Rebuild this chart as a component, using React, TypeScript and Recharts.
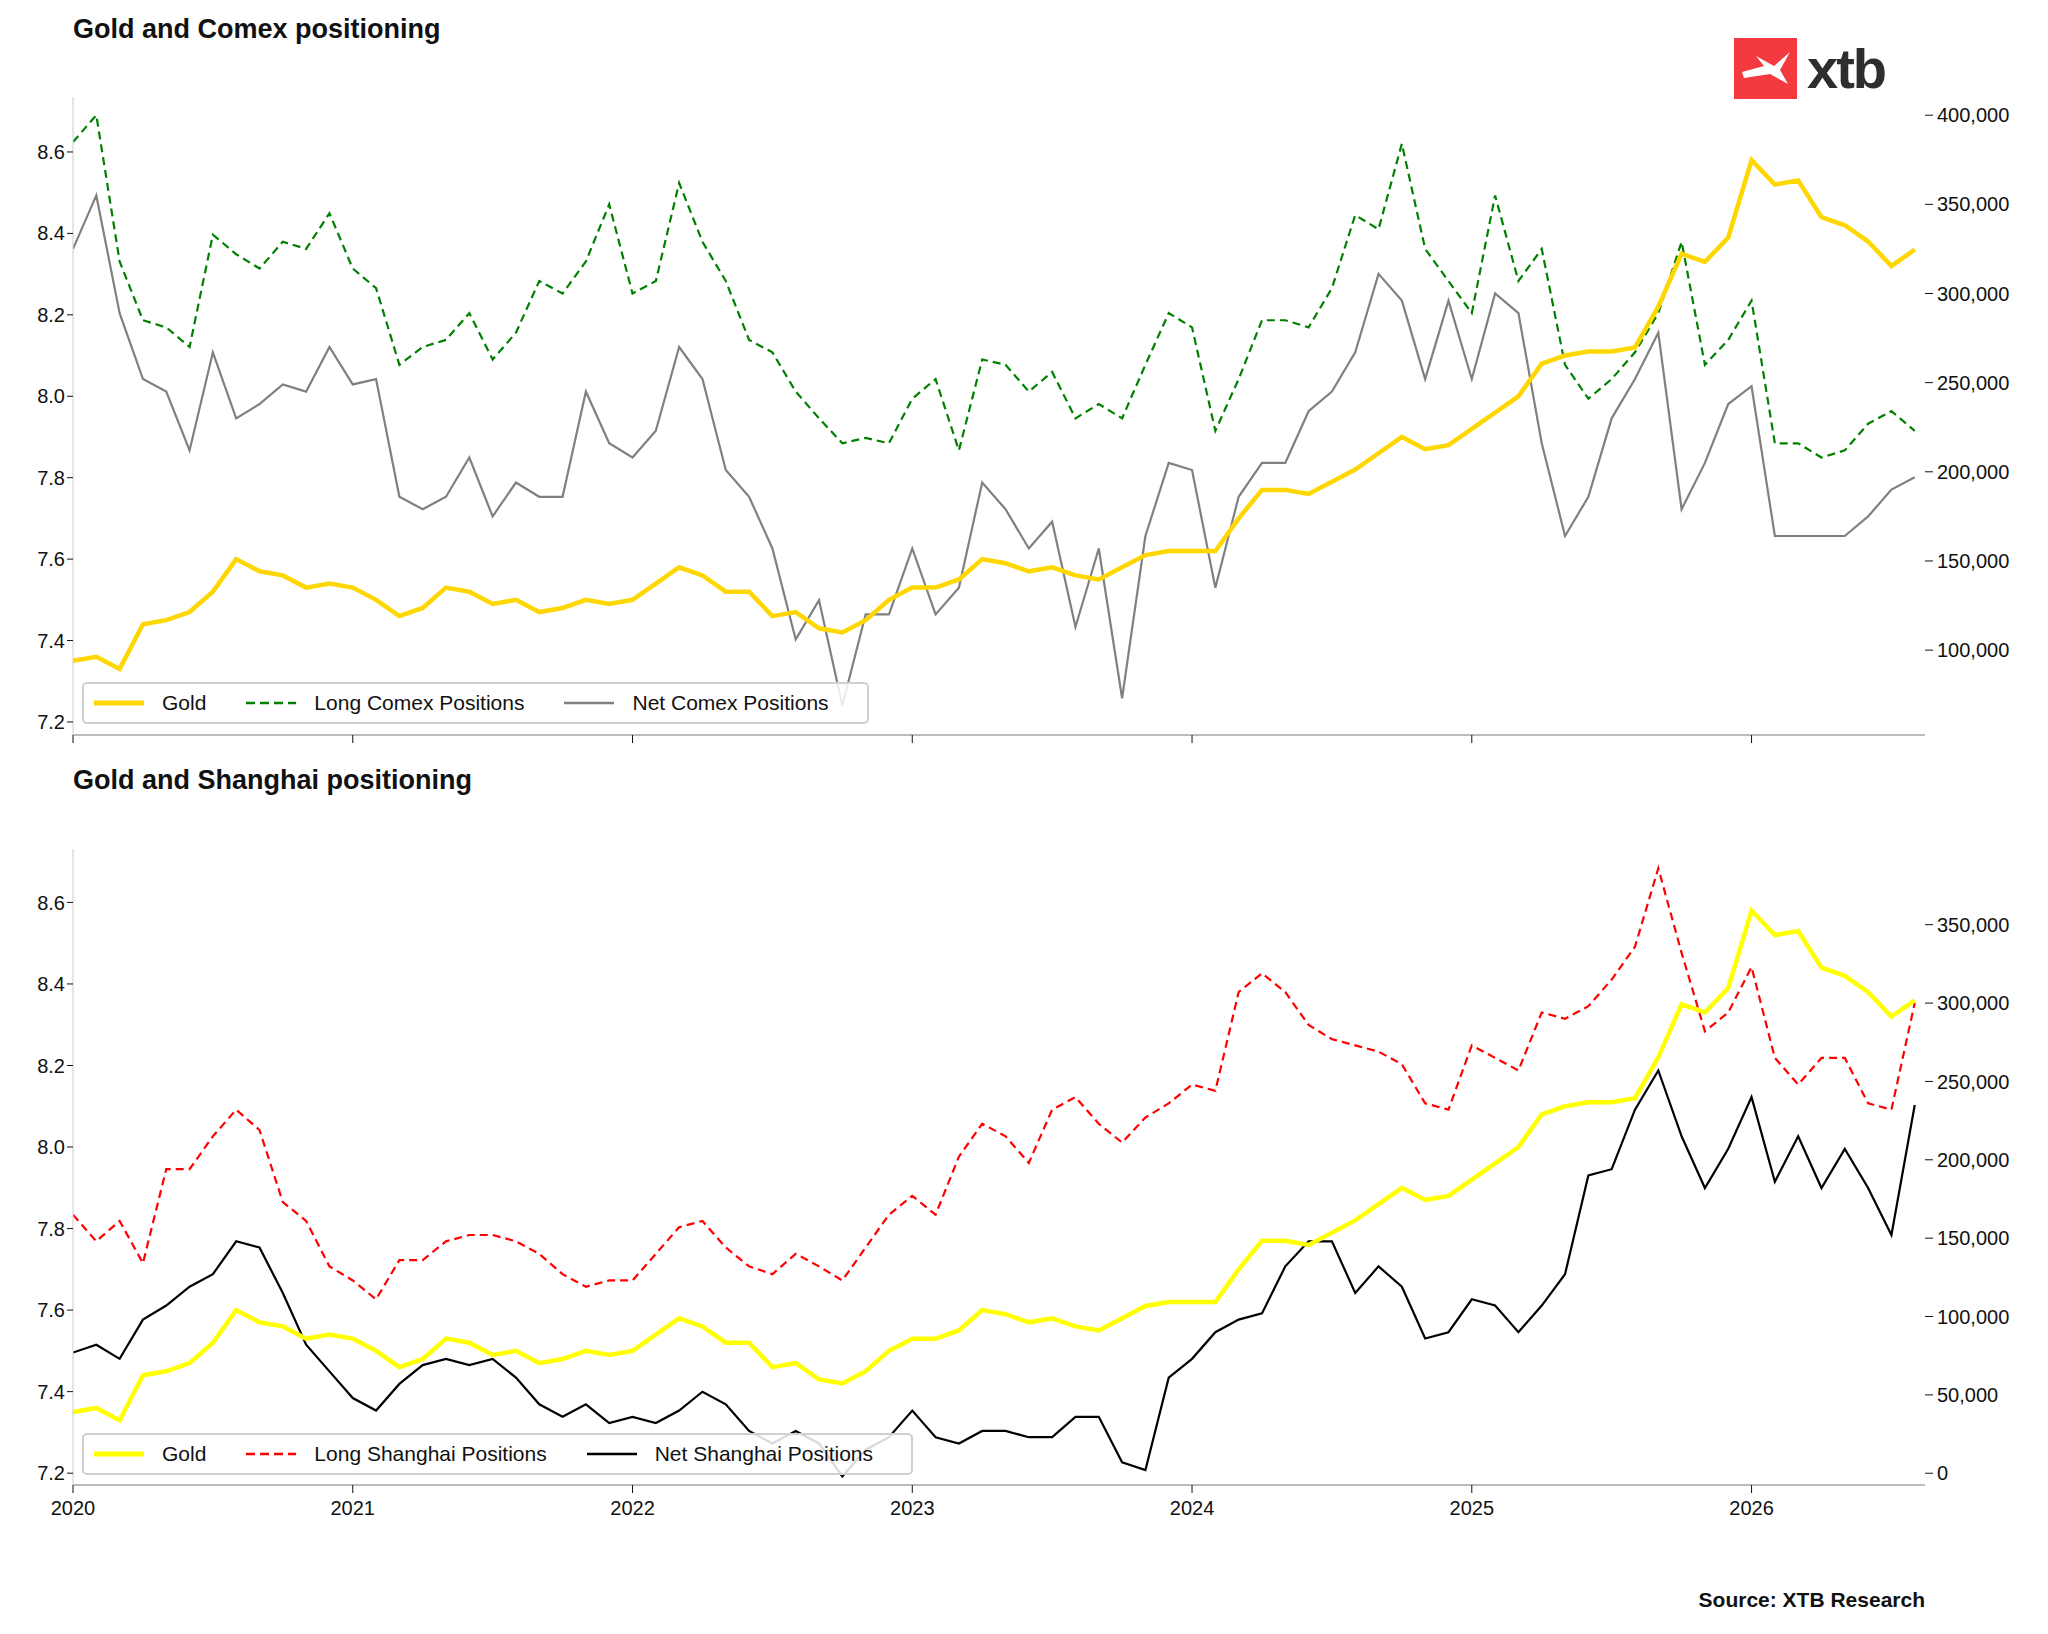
import { LineChart, Line, XAxis, YAxis } from 'recharts'

// monthly readings, Jan 2020 .. Aug 2026
const START_YEAR = 2020
const YEAR_TICKS = [2020, 2021, 2022, 2023, 2024, 2025, 2026]
const GOLD_TICKS = [7.2, 7.4, 7.6, 7.8, 8.0, 8.2, 8.4, 8.6]
const COMEX_TICKS = [100000, 150000, 200000, 250000, 300000, 350000, 400000]
const SHANGHAI_TICKS = [0, 50000, 100000, 150000, 200000, 250000, 300000, 350000]

const gold = [
  7.35, 7.36, 7.33, 7.44, 7.45, 7.47, 7.52, 7.60, 7.57, 7.56, 7.53, 7.54,
  7.53, 7.50, 7.46, 7.48, 7.53, 7.52, 7.49, 7.50, 7.47, 7.48, 7.50, 7.49,
  7.50, 7.54, 7.58, 7.56, 7.52, 7.52, 7.46, 7.47, 7.43, 7.42, 7.45, 7.50,
  7.53, 7.53, 7.55, 7.60, 7.59, 7.57, 7.58, 7.56, 7.55, 7.58, 7.61, 7.62,
  7.62, 7.62, 7.70, 7.77, 7.77, 7.76, 7.79, 7.82, 7.86, 7.90, 7.87, 7.88,
  7.92, 7.96, 8.00, 8.08, 8.10, 8.11, 8.11, 8.12, 8.22, 8.35, 8.33, 8.39,
  8.58, 8.52, 8.53, 8.44, 8.42, 8.38, 8.32, 8.36,
]

const longComex = [
  385000, 400000, 318000, 285000, 281000, 270000, 333000, 322000, 314000, 329000, 325000, 345000,
  314000, 303000, 260000, 270000, 274000, 289000, 263000, 278000, 307000, 300000, 318000, 350000,
  300000, 307000, 362000, 329000, 307000, 274000, 267000, 245000, 230000, 216000, 219000, 216000,
  241000, 252000, 212000, 263000, 260000, 245000, 256000, 230000, 238000, 230000, 260000, 289000,
  281000, 223000, 252000, 285000, 285000, 281000, 303000, 344000, 336000, 384000, 325000, 307000,
  289000, 355000, 307000, 325000, 260000, 241000, 252000, 267000, 289000, 329000, 260000, 274000,
  296000, 216000, 216000, 208000, 212000, 227000, 234000, 223000,
]

const netComex = [
  325000, 355000, 289000, 252000, 245000, 212000, 267000, 230000, 238000, 249000, 245000, 270000,
  249000, 252000, 186000, 179000, 186000, 208000, 175000, 194000, 186000, 186000, 245000, 216000,
  208000, 223000, 270000, 252000, 201000, 186000, 157000, 106000, 128000, 69000, 120000, 120000,
  157000, 120000, 135000, 194000, 179000, 157000, 172000, 113000, 157000, 73000, 164000, 205000,
  201000, 135000, 186000, 205000, 205000, 234000, 245000, 267000, 311000, 296000, 252000, 296000,
  252000, 300000, 289000, 216000, 164000, 186000, 230000, 252000, 278000, 179000, 205000, 238000,
  248000, 164000, 164000, 164000, 164000, 175000, 190000, 197000,
]

const longShanghai = [
  165000, 148000, 161000, 134000, 194000, 194000, 215000, 232000, 219000, 173000, 161000, 132000,
  123000, 111000, 136000, 136000, 148000, 152000, 152000, 148000, 140000, 127000, 119000, 123000,
  123000, 140000, 157000, 161000, 144000, 132000, 127000, 140000, 132000, 123000, 144000, 165000,
  177000, 165000, 202000, 223000, 215000, 198000, 232000, 240000, 223000, 211000, 227000, 236000,
  248000, 244000, 307000, 319000, 307000, 286000, 277000, 273000, 269000, 261000, 236000, 232000,
  273000, 265000, 257000, 294000, 290000, 298000, 315000, 336000, 386000, 332000, 282000, 294000,
  323000, 265000, 248000, 265000, 265000, 236000, 232000, 300000,
]

const netShanghai = [
  77000, 82000, 73000, 98000, 107000, 119000, 127000, 148000, 144000, 115000, 82000, 65000,
  48000, 40000, 57000, 69000, 73000, 69000, 73000, 61000, 44000, 36000, 44000, 32000,
  36000, 32000, 40000, 52000, 44000, 27000, 19000, 27000, 19000, -2000, 15000, 23000,
  40000, 23000, 19000, 27000, 27000, 23000, 23000, 36000, 36000, 7000, 2000, 61000,
  73000, 90000, 98000, 102000, 132000, 148000, 148000, 115000, 132000, 119000, 86000, 90000,
  111000, 107000, 90000, 107000, 127000, 190000, 194000, 232000, 257000, 215000, 182000, 207000,
  240000, 186000, 215000, 182000, 207000, 182000, 152000, 235000,
]

const comexRows = gold.map((g, i) => ({
  t: START_YEAR + i / 12,
  gold: g,
  long: longComex[i],
  net: netComex[i],
}))

const shanghaiRows = gold.map((g, i) => ({
  t: START_YEAR + i / 12,
  gold: g,
  long: longShanghai[i],
  net: netShanghai[i],
}))

const FONT = '"Liberation Sans", Arial, sans-serif'
const tickStyle = { fill: '#111', fontSize: 20, fontFamily: FONT }

function Legend({ top, items }: { top: number; items: { label: string; color: string; dash?: boolean; width: number }[] }) {
  return (
    <div
      style={{
        position: 'absolute', left: 82, top, height: 38, padding: '0 0 0 8px',
        display: 'flex', alignItems: 'center',
        border: '2px solid #d0d0d0', borderRadius: 5, background: 'rgba(255,255,255,0.85)',
        fontFamily: FONT, fontSize: 21, color: '#111',
      }}
    >
      {items.map((it) => (
        <div key={it.label} style={{ display: 'flex', alignItems: 'center', marginRight: 38 }}>
          <svg width={54} height={10} style={{ marginRight: 16 }}>
            <line x1={2} y1={5} x2={52} y2={5} stroke={it.color} strokeWidth={it.width}
              strokeDasharray={it.dash ? '9 5' : undefined} />
          </svg>
          <span>{it.label}</span>
        </div>
      ))}
    </div>
  )
}

export default function App() {
  return (
    <div style={{ position: 'absolute', left: 0, top: 0, width: 2048, height: 1634, background: '#fff', fontFamily: FONT }}>
      <div style={{ position: 'absolute', left: 73, top: 14, fontSize: 27, fontWeight: 'bold', color: '#111' }}>
        Gold and Comex positioning
      </div>
      <div style={{ position: 'absolute', left: 73, top: 765, fontSize: 27, fontWeight: 'bold', color: '#111' }}>
        Gold and Shanghai positioning
      </div>
      <div style={{ position: 'absolute', left: 1734, top: 38, display: 'flex', alignItems: 'center' }}>
        <svg width={63} height={61}>
          <rect width={63} height={61} fill="#f43a3f" />
          <path d="M8 34 L30 28 L22 18 L40 28 L56 14 L46 32 L54 46 L36 36 L10 40 Z" fill="#fff" />
        </svg>
        <span style={{ marginLeft: 10, fontSize: 56, fontWeight: 'bold', color: '#2e2e2e', lineHeight: '56px', letterSpacing: -2 }}>xtb</span>
      </div>

      <div style={{ position: 'absolute', left: 0, top: 0 }}>
        <LineChart width={2048} height={770} data={comexRows} margin={{ top: 97, right: 0, bottom: 0, left: 0 }}>
          <XAxis dataKey="t" type="number" domain={[2020, 2026.62]} ticks={YEAR_TICKS} height={35} interval={0}
            tick={{ fill: 'transparent', fontSize: 20 }} tickSize={8} axisLine={{ stroke: '#bbb', strokeWidth: 2 }}
            tickLine={{ stroke: '#111' }} allowDataOverflow />
          <YAxis yAxisId="g" domain={[7.168, 8.735]} ticks={GOLD_TICKS} width={73} tick={tickStyle} interval={0}
            tickFormatter={(v: number) => v.toFixed(1)} axisLine={{ stroke: '#ccc' }} tickLine={{ stroke: '#111' }} tickSize={6} allowDataOverflow />
          <YAxis yAxisId="p" orientation="right" domain={[52400, 410200]} ticks={COMEX_TICKS} width={123} interval={0}
            tick={tickStyle} tickFormatter={(v: number) => v.toLocaleString('en-US')} axisLine={false}
            tickLine={{ stroke: '#111' }} tickSize={8} tickMargin={4} allowDataOverflow />
          <Line yAxisId="p" dataKey="long" stroke="#008000" strokeWidth={2.2} strokeDasharray="8 5" dot={false} isAnimationActive={false} />
          <Line yAxisId="p" dataKey="net" stroke="#808080" strokeWidth={2.2} dot={false} isAnimationActive={false} />
          <Line yAxisId="g" dataKey="gold" stroke="#ffd700" strokeWidth={4.5} dot={false} isAnimationActive={false} />
        </LineChart>
      </div>

      <div style={{ position: 'absolute', left: 0, top: 770 }}>
        <LineChart width={2048} height={775} data={shanghaiRows} margin={{ top: 79, right: 0, bottom: 0, left: 0 }}>
          <XAxis dataKey="t" type="number" domain={[2020, 2026.62]} ticks={YEAR_TICKS} height={60} interval={0}
            tick={tickStyle} tickSize={8} tickMargin={8} axisLine={{ stroke: '#bbb', strokeWidth: 2 }}
            tickLine={{ stroke: '#111' }} allowDataOverflow />
          <YAxis yAxisId="g" domain={[7.171, 8.731]} ticks={GOLD_TICKS} width={73} tick={tickStyle} interval={0}
            tickFormatter={(v: number) => v.toFixed(1)} axisLine={{ stroke: '#ccc' }} tickLine={{ stroke: '#111' }} tickSize={6} allowDataOverflow />
          <YAxis yAxisId="p" orientation="right" domain={[-7500, 398300]} ticks={SHANGHAI_TICKS} width={123} interval={0}
            tick={tickStyle} tickFormatter={(v: number) => v.toLocaleString('en-US')} axisLine={false}
            tickLine={{ stroke: '#111' }} tickSize={8} tickMargin={4} allowDataOverflow />
          <Line yAxisId="p" dataKey="long" stroke="#ff0000" strokeWidth={2.2} strokeDasharray="8 5" dot={false} isAnimationActive={false} />
          <Line yAxisId="p" dataKey="net" stroke="#000000" strokeWidth={2.2} dot={false} isAnimationActive={false} />
          <Line yAxisId="g" dataKey="gold" stroke="#ffff00" strokeWidth={4.5} dot={false} isAnimationActive={false} />
        </LineChart>
      </div>

      <Legend top={682} items={[
        { label: 'Gold', color: '#ffd700', width: 5 },
        { label: 'Long Comex Positions', color: '#008000', dash: true, width: 2.5 },
        { label: 'Net Comex Positions', color: '#808080', width: 2.5 },
      ]} />
      <Legend top={1433} items={[
        { label: 'Gold', color: '#ffff00', width: 5 },
        { label: 'Long Shanghai Positions', color: '#ff0000', dash: true, width: 2.5 },
        { label: 'Net Shanghai Positions', color: '#000000', width: 2.5 },
      ]} />

      <div style={{ position: 'absolute', right: 2048 - 1925, top: 1588, fontSize: 21, fontWeight: 'bold', color: '#111' }}>
        Source: XTB Research
      </div>
    </div>
  )
}
